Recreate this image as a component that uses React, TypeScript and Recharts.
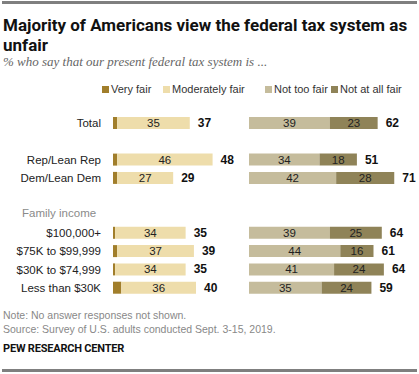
import React from "react";
import { BarChart, Bar, XAxis, YAxis, LabelList } from "recharts";

const categories = [
  "Total",
  "",
  "Rep/Lean Rep",
  "Dem/Lean Dem",
  "",
  "Family income",
  "$100,000+",
  "$75K to $99,999",
  "$30K to $74,999",
  "Less than $30K",
];
const veryFair = [2, null, 2, 2, null, null, 1, 2, 1, 4];
const moderatelyFair = [35, null, 46, 27, null, null, 34, 37, 34, 36];
const fairTotal = [37, null, 48, 29, null, null, 35, 39, 35, 40];
const notTooFair = [39, null, 34, 42, null, null, 39, 44, 41, 35];
const notAtAllFair = [23, null, 18, 28, null, null, 25, 16, 24, 24];
const unfairTotal = [62, null, 51, 71, null, null, 64, 61, 64, 59];

const data = categories.map((c, i) => ({
  key: "row" + i,
  label: c,
  veryFair: veryFair[i],
  moderatelyFair: moderatelyFair[i],
  fairTotal: fairTotal[i],
  notTooFair: notTooFair[i],
  notAtAllFair: notAtAllFair[i],
  unfairTotal: unfairTotal[i],
}));

const C_VERY = "#A17E2B";
const C_MOD = "#EEDDAB";
const C_NOTTOO = "#C5BC9C";
const C_NOTATALL = "#8F8358";

const W = 419;
const H = 374;
const PLOT_TOP = 114;
const PLOT_BOTTOM = H - 297;
const PX_PER_UNIT = 2.075;
const LEFT_START = 113;
const LEFT_MAX = 60;
const RIGHT_START = 249;
const RIGHT_MAX = 75;

const labelFont = "'Liberation Sans', Arial, sans-serif";

const CategoryTick = (props: any) => {
  const { y, payload } = props;
  const row = data.find((d) => d.key === payload.value);
  const label = row ? row.label : "";
  if (!label) return null;
  if (label === "Family income") {
    return (
      <text x={22} y={y - 2} dy={4} textAnchor="start" fill="#8a8a8a" fontSize={11.5} fontFamily={labelFont}>
        {label}
      </text>
    );
  }
  return (
    <text x={101} y={y} dy={4} textAnchor="end" fill="#222" fontSize={11.5} fontFamily={labelFont}>
      {label}
    </text>
  );
};

const inner = (props: any) => {
  const { x, y, width, height, value } = props;
  if (value == null) return null;
  return (
    <text x={x + width / 2} y={y + height / 2} dy={4} textAnchor="middle" fill="#222" fontSize={11.5} fontFamily={labelFont}>
      {value}
    </text>
  );
};

const totalLabel = (props: any) => {
  const { x, y, width, height, value } = props;
  if (value == null) return null;
  return (
    <text x={x + width + 8} y={y + height / 2} dy={4} textAnchor="start" fill="#111" fontSize={12} fontWeight={700} fontFamily={labelFont}>
      {value}
    </text>
  );
};

const LegendItem = ({ color, text, left }: { color: string; text: string; left: number }) => (
  <div style={{ position: "absolute", left, top: 83, display: "flex", alignItems: "center", fontFamily: labelFont, fontSize: 11, color: "#333", whiteSpace: "nowrap" }}>
    <span style={{ display: "inline-block", width: 7, height: 7, background: color, marginRight: 2 }} />
    {text}
  </div>
);

export default function App() {
  return (
    <div style={{ position: "absolute", left: 0, top: 0, width: W, height: H, background: "#fff", overflow: "hidden" }}>
      <div style={{ position: "absolute", left: 2, top: 1, width: 415, height: 3, background: "#7f7f7f" }} />
      <div style={{ position: "absolute", left: 3, top: 15, width: 410, fontFamily: "Roboto, 'Liberation Sans', sans-serif", fontWeight: 700, fontSize: 17, lineHeight: "20px", color: "#111" }}>
        Majority of Americans view the federal tax system as unfair
      </div>
      <div style={{ position: "absolute", left: 3, top: 54, fontFamily: "'Liberation Serif', Georgia, serif", fontStyle: "italic", fontSize: 13, color: "#666", whiteSpace: "nowrap" }}>
        % who say that our present federal tax system is ...
      </div>
      <LegendItem color={C_VERY} text="Very fair" left={102} />
      <LegendItem color={C_MOD} text="Moderately fair" left={163} />
      <LegendItem color={C_NOTTOO} text="Not too fair" left={265} />
      <LegendItem color={C_NOTATALL} text="Not at all fair" left={331} />

      <div style={{ position: "absolute", left: 0, top: 0 }}>
        <BarChart
          width={W}
          height={H}
          data={data}
          layout="vertical"
          barCategoryGap={0}
          margin={{ top: PLOT_TOP, bottom: PLOT_BOTTOM, left: 0, right: W - LEFT_START - LEFT_MAX * PX_PER_UNIT }}
        >
          <XAxis type="number" domain={[0, LEFT_MAX]} hide />
          <YAxis type="category" dataKey="key" width={LEFT_START} axisLine={false} tickLine={false} tick={<CategoryTick />} interval={0} />
          <Bar dataKey="veryFair" stackId="f" fill={C_VERY} barSize={12} isAnimationActive={false} />
          <Bar dataKey="moderatelyFair" stackId="f" fill={C_MOD} barSize={12} isAnimationActive={false}>
            <LabelList dataKey="moderatelyFair" content={inner} />
            <LabelList dataKey="fairTotal" content={totalLabel} />
          </Bar>
        </BarChart>
      </div>
      <div style={{ position: "absolute", left: 0, top: 0 }}>
        <BarChart
          width={W}
          height={H}
          data={data}
          layout="vertical"
          barCategoryGap={0}
          margin={{ top: PLOT_TOP, bottom: PLOT_BOTTOM, left: RIGHT_START, right: W - RIGHT_START - RIGHT_MAX * PX_PER_UNIT }}
        >
          <XAxis type="number" domain={[0, RIGHT_MAX]} hide />
          <YAxis type="category" dataKey="key" hide />
          <Bar dataKey="notTooFair" stackId="u" fill={C_NOTTOO} barSize={12} isAnimationActive={false}>
            <LabelList dataKey="notTooFair" content={inner} />
          </Bar>
          <Bar dataKey="notAtAllFair" stackId="u" fill={C_NOTATALL} barSize={12} isAnimationActive={false}>
            <LabelList dataKey="notAtAllFair" content={inner} />
            <LabelList dataKey="unfairTotal" content={totalLabel} />
          </Bar>
        </BarChart>
      </div>

      <div style={{ position: "absolute", left: 3, top: 309, fontFamily: labelFont, fontSize: 10.5, color: "#888", lineHeight: "13.5px", whiteSpace: "nowrap" }}>
        <div>Note: No answer responses not shown.</div>
        <div>Source: Survey of U.S. adults conducted Sept. 3-15, 2019.</div>
      </div>
      <div style={{ position: "absolute", left: 3, top: 342, fontFamily: "Roboto, 'Liberation Sans', sans-serif", fontWeight: 700, fontSize: 11, color: "#111", letterSpacing: -0.2, whiteSpace: "nowrap" }}>
        PEW RESEARCH CENTER
      </div>
      <div style={{ position: "absolute", left: 2, top: 369, width: 415, height: 3, background: "#7f7f7f" }} />
    </div>
  );
}
